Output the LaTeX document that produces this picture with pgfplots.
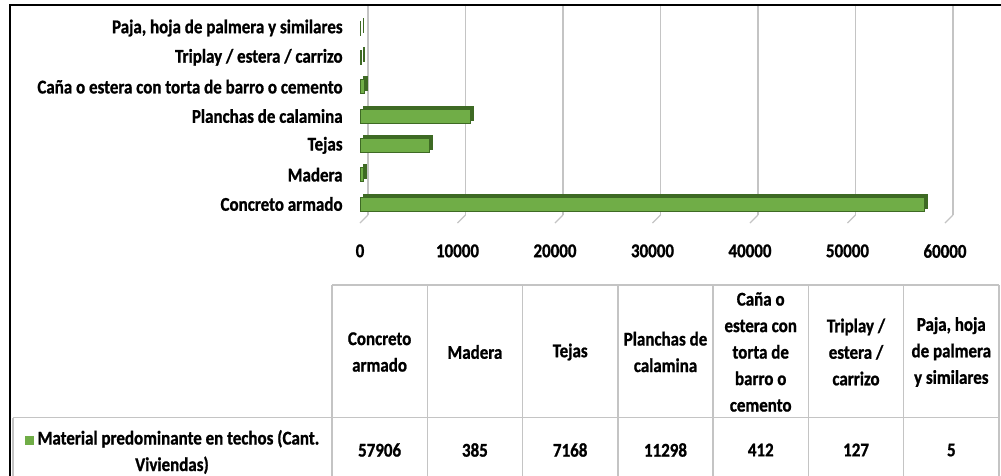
\documentclass[border=0pt]{standalone}
\usepackage{fontspec}
\setmainfont{Carlito}[FakeStretch=0.87,BoldFeatures={FakeBold=1}]
\usepackage{pgfplots}
\pgfplotsset{compat=1.18}
\usepackage{pgfplotstable}
\definecolor{barG}{HTML}{70AD47}
\definecolor{barD}{HTML}{3E6A24}
\definecolor{gridc}{HTML}{C4C4C4}
\newcommand\lbl{\fontsize{9.75}{13.25}\selectfont\bfseries}

% y: 0 = Concreto armado (bottom) ... 6 = Paja (top), same order as the table columns
\pgfplotstableread{
y v
0 57906
1 385
2 7168
3 11298
4 412
5 127
6 5
}\techos

\begin{document}
\begin{tikzpicture}[x=0.5pt,y=-0.5pt]
\useasboundingbox (0,0) rectangle (1001,476);
\coordinate (axSW) at (360,221.6);
\begin{axis}[at={(axSW)},anchor=south west,
  width=292.5pt,height=105.6pt,scale only axis,
  xmin=0,xmax=60000,ymin=-0.6,ymax=6.6,
  axis line style={draw=none},major tick length=0pt,
  ytick={0,...,6},
  yticklabels={Concreto armado,Madera,Tejas,Planchas de calamina,
    Caña o estera con torta de barro o cemento,Triplay / estera / carrizo,
    {Paja, hoja de palmera y similares}},
  xtick={0,10000,20000,30000,40000,50000,60000},
  scaled x ticks=false,
  /pgf/number format/1000 sep={},
  /pgf/number format/assume math mode=true,
  ticklabel style={font=\lbl,inner sep=0pt},
  yticklabel style={anchor=east,xshift=-8.5pt},
  xticklabel style={anchor=north,yshift=-11.2pt},
  clip=false]
  % back grid and floor ticks
  \pgfplotsinvokeforeach{0,10000,20000,30000,40000,50000,60000}{
    \draw[gridc,line width=0.6pt] ([xshift=4pt]axis cs:#1,-0.375) -- ([xshift=4pt]axis cs:#1,6.78);
    \draw[gridc,line width=0.6pt] ([xshift=4pt]axis cs:#1,-0.375) -- (axis cs:#1,-0.648);
  }
  \addplot[xbar,bar width=7pt,fill=barD,draw=barD,xshift=1.5pt,yshift=1.5pt]
    table[x=v,y=y]{\techos};
  \addplot[xbar,bar width=7pt,fill=barG,draw=barD,line width=0.5pt]
    table[x=v,y=y]{\techos};
\end{axis}

% data table
\begin{scope}[gridc,line width=0.7pt]
  \draw (332,285) -- (999,285);
  \draw (13,417.5) -- (999,417.5);
  \foreach \c in {332,427.3,522.6,617.9,713.1,808.4,903.7,999}
    \draw (\c,285) -- (\c,480);
  \draw (13,417.5) -- (13,480);
\end{scope}
\begin{scope}[every node/.style={font=\lbl,align=center,inner sep=0pt}]
  \node at (379.6,352) {Concreto\\armado};
  \node at (474.9,352) {Madera};
  \node at (570.2,352) {Tejas};
  \node at (665.5,352) {Planchas de\\calamina};
  \node at (760.7,352) {Caña o\\estera con\\torta de\\barro o\\cemento};
  \node at (856.0,352) {Triplay /\\estera /\\carrizo};
  \node at (951.3,352) {Paja, hoja\\de palmera\\y similares};
  \node at (172,452) {\textcolor{barG}{\rule{4.5pt}{4.5pt}} Material predominante en techos (Cant.\\Viviendas)};
  \foreach \i in {0,...,6}{
    \pgfplotstablegetelem{\i}{v}\of\techos
    \node at ({379.6+95.29*\i},450) {\pgfplotsretval};
  }
\end{scope}

\draw[black,line width=1.3pt] (10,490) -- (10,5) -- (1010,5);
\end{tikzpicture}
\end{document}
